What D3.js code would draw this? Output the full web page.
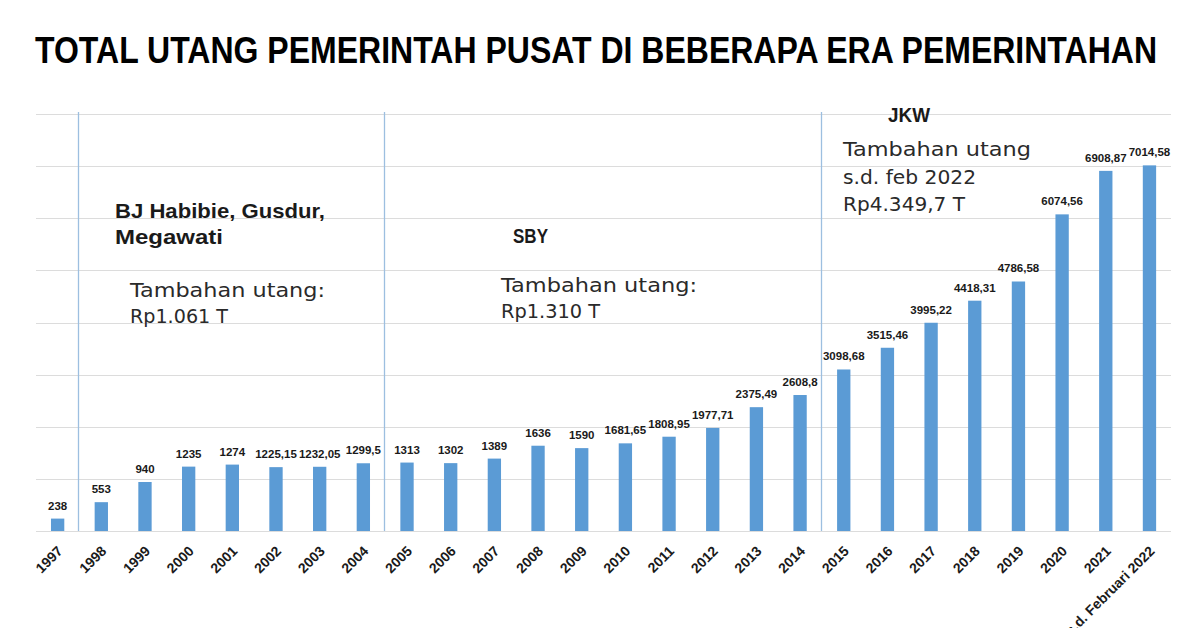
<!DOCTYPE html>
<html>
<head>
<meta charset="utf-8">
<script src="https://cdn.jsdelivr.net/npm/d3@7"></script>
<style>
  html, body { margin: 0; padding: 0; background: #fff; }
  svg { display: block; }
</style>
</head>
<body>
<svg id="chart" width="1200" height="628"></svg>
<script>
// ---- data ----
const years = ["1997","1998","1999","2000","2001","2002","2003","2004","2005","2006","2007","2008","2009","2010","2011","2012","2013","2014","2015","2016","2017","2018","2019","2020","2021","s.d. Februari 2022"];
const debt = [238,553,940,1235,1274,1225.15,1232.05,1299.5,1313,1302,1389,1636,1590,1681.65,1808.95,1977.71,2375.49,2608.8,3098.68,3515.46,3995.22,4418.31,4786.58,6074.56,6908.87,7014.58];
const valueLabels = ["238","553","940","1235","1274","1225,15","1232,05","1299,5","1313","1302","1389","1636","1590","1681,65","1808,95","1977,71","2375,49","2608,8","3098,68","3515,46","3995,22","4418,31","4786,58","6074,56","6908,87","7014,58"];
const yTicks = [0,1000,2000,3000,4000,5000,6000,7000,8000];
// era separators: placed before these categories
const eraStarts = ["1998","2005","2015"];
const title = "TOTAL UTANG PEMERINTAH PUSAT DI BEBERAPA ERA PEMERINTAHAN";
const eraNames = [["BJ Habibie, Gusdur,","Megawati"],["SBY"],["JKW"]];
const eraNotes = [["Tambahan utang:","Rp1.061 T"],["Tambahan utang:","Rp1.310 T"],["Tambahan utang","s.d. feb 2022","Rp4.349,7  T"]];

// ---- layout ----
const svg = d3.select("#chart");
const x = d3.scaleBand().domain(years).range([35.8, 1171.3]).paddingInner(0.695).paddingOuter(0.3475);
const y = d3.scaleLinear().domain([0, 8000]).range([531, 114]);

// title
svg.append("text")
  .attr("x", 35).attr("y", 63)
  .attr("font-family", "Liberation Sans, Arial, sans-serif")
  .attr("font-weight", "bold")
  .attr("font-size", 36)
  .attr("fill", "#000")
  .attr("textLength", 1122)
  .attr("lengthAdjust", "spacingAndGlyphs")
  .text(title);

// gridlines
svg.append("g").selectAll("line").data(yTicks).join("line")
  .attr("x1", 36).attr("x2", 1171)
  .attr("y1", d => Math.round(y(d)) + 0.5).attr("y2", d => Math.round(y(d)) + 0.5)
  .attr("stroke", "#dcdcdc").attr("stroke-width", 1);

// era separators
const sepX = d => Math.round(x(d) - x.step() * x.paddingInner() / 2) - 0.5;
svg.append("g").selectAll("line").data(eraStarts).join("line")
  .attr("x1", sepX).attr("x2", sepX)
  .attr("y1", y(8000) - 2).attr("y2", y(0))
  .attr("stroke", "#9dbfe0").attr("stroke-width", 1.3);

// bars
svg.append("g").selectAll("rect").data(debt).join("rect")
  .attr("x", (d, i) => x(years[i]))
  .attr("width", x.bandwidth())
  .attr("y", d => y(d))
  .attr("height", d => y(0) - y(d))
  .attr("fill", "#5b9bd5");

// value labels
svg.append("g").selectAll("text").data(debt).join("text")
  .attr("x", (d, i) => x(years[i]) + x.bandwidth() / 2)
  .attr("y", d => y(d) - 9)
  .attr("text-anchor", "middle")
  .attr("font-family", "Liberation Sans, Arial, sans-serif")
  .attr("font-weight", "bold")
  .attr("font-size", 11.5)
  .attr("fill", "#1a1a1a")
  .text((d, i) => valueLabels[i]);

// x-axis labels
svg.append("g").selectAll("text").data(years).join("text")
  .attr("transform", d => `translate(${x(d) + x.bandwidth() / 2 + 6},${552}) rotate(-45)`)
  .attr("text-anchor", "end")
  .attr("font-family", "Liberation Sans, Arial, sans-serif")
  .attr("font-weight", "bold")
  .attr("font-size", 14)
  .attr("fill", "#1a1a1a")
  .text(d => d);

// annotations
const nameLayout = [
  {x: 115, y: [217.7, 244], w: [210, 108], size: 21},
  {x: 513, y: [243.3], w: [35], size: 20},
  {x: 888, y: [121.7], w: [42], size: 20}
];
const noteLayout = [
  {x: 130, y: [296.7, 323.3], w: [195, 98]},
  {x: 501, y: [291.7, 318.3], w: [196, 99]},
  {x: 843, y: [155.7, 184.3, 210.7], w: [188, 133, 122]}
];
eraNames.forEach((lines, k) => {
  lines.forEach((t, j) => {
    svg.append("text")
      .attr("x", nameLayout[k].x).attr("y", nameLayout[k].y[j])
      .attr("font-family", "Liberation Sans, Arial, sans-serif")
      .attr("font-weight", "bold")
      .attr("font-size", nameLayout[k].size)
      .attr("fill", "#1a1a1a")
      .attr("textLength", nameLayout[k].w[j])
      .attr("lengthAdjust", "spacingAndGlyphs")
      .text(t);
  });
});
eraNotes.forEach((lines, k) => {
  lines.forEach((t, j) => {
    svg.append("text")
      .attr("x", noteLayout[k].x).attr("y", noteLayout[k].y[j])
      .attr("font-family", "DejaVu Sans, sans-serif")
      .attr("font-size", 20)
      .attr("fill", "#2a2a2a")
      .attr("textLength", noteLayout[k].w[j])
      .attr("lengthAdjust", "spacingAndGlyphs")
      .text(t);
  });
});
</script>
</body>
</html>
